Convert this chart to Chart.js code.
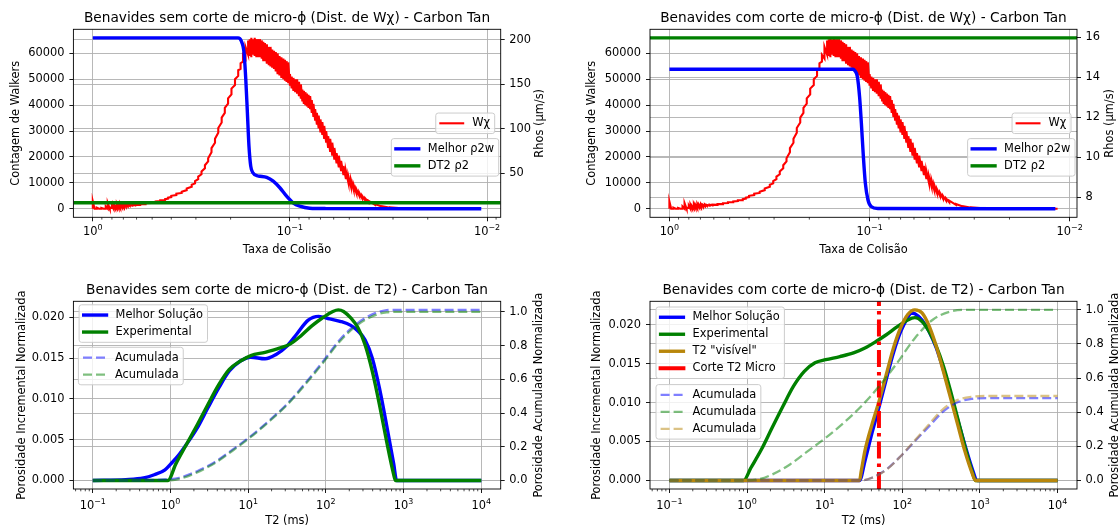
<!DOCTYPE html>
<html lang="pt">
<head>
<meta charset="utf-8">
<title>Benavides - Carbon Tan</title>
<script src="https://cdn.jsdelivr.net/npm/chart.js@4.4.1/dist/chart.umd.min.js"></script>
<style>
  html, body { margin: 0; padding: 0; background: #fff; }
  #figura { position: relative; width: 1118px; height: 528px; overflow: hidden; }
  canvas { position: absolute; }
</style>
</head>
<body>
<div id="figura">
  <canvas id="wxSem" width="559" height="264" style="left:0;top:0"></canvas>
  <canvas id="wxCom" width="559" height="264" style="left:559px;top:0"></canvas>
  <canvas id="t2Sem" width="559" height="264" style="left:0;top:264px"></canvas>
  <canvas id="t2Com" width="559" height="264" style="left:559px;top:264px"></canvas>
</div>
<script>
// ---------- dados ----------

// distribuicao W-chi: [taxa de colisao, minimo, maximo] (a curva oscila entre os dois)
const wxFaixa = [
  [1.0, 0, 2800], [0.98, 0, 0], [0.955, 0, 400], [0.93, 0, 0], [0.905, 0, 300],
  [0.88, 0, 0], [0.86, 0, 900], [0.84, 0, 2200], [0.82, 0, 500], [0.80, 300, 1200],
  [0.785, 0, 1600], [0.77, 200, 1000], [0.755, 0, 1800], [0.74, 300, 1400], [0.725, 100, 1900],
  [0.71, 600, 1500], [0.695, 400, 1800], [0.68, 800, 1500], [0.665, 900, 1700], [0.65, 1100, 1500],
  [0.63, 1200, 1600], [0.61, 1300, 1600], [0.575, 1500, 1800], [0.54, 1800, 2100], [0.51, 2200, 2500],
  [0.48, 2500, 2800], [0.455, 3000, 3300], [0.43, 3300, 3700], [0.415, 3900, 4300], [0.40, 4500, 5000],
  [0.377, 5300, 5800], [0.354, 6100, 6600], [0.334, 7200, 7800], [0.315, 8500, 9300], [0.303, 9800, 10700],
  [0.292, 11400, 12400], [0.281, 13300, 14400], [0.27, 15600, 16800], [0.26, 18300, 19500], [0.25, 21800, 23400],
  [0.24, 25500, 27000], [0.231, 29400, 31200], [0.222, 33300, 35200], [0.214, 37000, 39000], [0.206, 40600, 42600],
  [0.198, 44200, 46400], [0.19, 47800, 50000], [0.183, 51300, 53500], [0.178, 54000, 56200], [0.173, 56800, 59400],
  [0.168, 58000, 62500], [0.163, 59500, 65000], [0.16, 59000, 65500], [0.157, 58500, 66000], [0.154, 59500, 65500],
  [0.151, 59000, 66000], [0.148, 58500, 65500], [0.145, 58500, 65500], [0.142, 58500, 65500], [0.139, 58000, 65000],
  [0.1365, 57000, 64500], [0.134, 57000, 64000], [0.131, 56000, 63500], [0.128, 55500, 62500], [0.1255, 55000, 62500],
  [0.123, 54500, 61500], [0.1205, 54000, 61000], [0.118, 53000, 60500], [0.1155, 52000, 60000], [0.113, 51500, 59000],
  [0.1105, 50500, 58500], [0.108, 50000, 58000], [0.106, 49500, 57500], [0.104, 49000, 57000], [0.102, 48500, 56500],
  [0.100, 47500, 52000], [0.098, 46500, 51000], [0.096, 45500, 50500], [0.094, 45000, 50000], [0.092, 44500, 50000],
  [0.090, 43500, 49000], [0.088, 42500, 48000], [0.0865, 41500, 46000], [0.085, 40500, 45500], [0.0835, 40000, 45000],
  [0.082, 39500, 44500], [0.0805, 39000, 44000], [0.079, 38500, 43500], [0.0775, 37000, 42000], [0.076, 35500, 40500],
  [0.0745, 34000, 38500], [0.073, 32500, 37000], [0.0715, 31000, 36000], [0.070, 29500, 34500], [0.0685, 28500, 33500],
  [0.067, 27000, 32000], [0.0655, 25500, 30000], [0.064, 23500, 28000], [0.0625, 22000, 27000], [0.061, 20500, 25500],
  [0.0595, 19000, 23500], [0.058, 17500, 21500], [0.0565, 16000, 20500], [0.055, 14500, 18500], [0.0535, 13000, 16500],
  [0.052, 11500, 14500], [0.0505, 10000, 12500], [0.049, 8500, 11000], [0.0475, 7200, 9200], [0.046, 6000, 7500],
  [0.0445, 5000, 6200], [0.043, 4000, 5000], [0.0415, 3200, 4000], [0.040, 2500, 3100], [0.037, 1500, 1800],
  [0.034, 800, 1000], [0.031, 400, 500], [0.027, 150, 150], [0.022, 30, 30], [0.0115, 0, 0]
];

// rho2 ajustado (um/s) por taxa de colisao
const melhorRhoSem = [
  [1.0, 202], [0.1832, 202], [0.1766, 198.5], [0.171, 185.4], [0.1675, 155.4], [0.1644, 118],
  [0.1614, 80.4], [0.1581, 57.9], [0.1542, 50.4], [0.1452, 46.8], [0.1419, 46.5], [0.1312, 45.2],
  [0.1216, 41], [0.1125, 33.6], [0.104, 24.1], [0.0964, 16.7], [0.0891, 12.9], [0.0794, 10.6],
  [0.0655, 10.2], [0.0107, 10.0]
];
const melhorRhoCom = [
  [1.0, 14.4], [0.1211, 14.4], [0.1186, 14.33], [0.1151, 14.03], [0.1122, 13.03], [0.1099, 11.7],
  [0.1074, 10.03], [0.105, 8.7], [0.1019, 7.87], [0.0982, 7.53], [0.091, 7.43], [0.0118, 7.42]
];
const rhoDT2Sem = 16.7;
const rhoDT2Com = 15.97;

// distribuicoes de T2 (ms) sem corte
const melhorSem = [
  [0.1, 0], [0.265, 0.0001], [0.45, 0.0003], [0.618, 0.0007], [0.849, 0.0013], [1.05, 0.0022],
  [1.297, 0.0032], [1.6, 0.0044], [2.2, 0.0064], [3.03, 0.0089], [4.16, 0.0113], [5.71, 0.0134],
  [7.85, 0.0146], [10.8, 0.0151], [16.5, 0.0149], [22.6, 0.0154], [31.1, 0.0164], [42.7, 0.0180],
  [58.7, 0.0196], [80.7, 0.0201], [111, 0.0198], [152, 0.0195], [209, 0.0190], [259, 0.0183],
  [320, 0.0172], [395, 0.0150], [489, 0.0113], [604, 0.0068], [747, 0.0020], [813, 0], [10000, 0]
];
const experimentalSem = [
  [0.1, 0], [0.925, 0], [1.167, 0.0020], [1.6, 0.0044], [2.2, 0.0068], [3.03, 0.0093], [4.16, 0.0117],
  [5.71, 0.0136], [7.85, 0.0146], [10.8, 0.0153], [16.5, 0.0157], [25.2, 0.0162], [34.6, 0.0167],
  [47.5, 0.0177], [65.3, 0.0189], [89.8, 0.0199], [123, 0.0207], [144.5, 0.0209], [169, 0.0207],
  [209, 0.0199], [259, 0.0187], [320, 0.0166], [395, 0.0134], [489, 0.0093], [604, 0.0048],
  [747, 0.0007], [787, 0], [10000, 0]
];
const acumMelhorSem = [
  [0.1, 0], [0.5, 0.002], [0.849, 0.006], [1.297, 0.016], [2.2, 0.055], [3.74, 0.11], [6.35, 0.184],
  [10.8, 0.263], [18.3, 0.352], [31.1, 0.45], [52.8, 0.57], [89.8, 0.70], [152, 0.836], [259, 0.935],
  [439, 0.994], [604, 1.01], [747, 1.012], [10000, 1.012]
];
const acumExpSem = [
  [0.1, 0], [0.925, 0], [1.297, 0.01], [2.2, 0.048], [3.74, 0.104], [6.35, 0.178], [10.8, 0.258],
  [18.3, 0.347], [31.1, 0.445], [52.8, 0.563], [89.8, 0.692], [152, 0.826], [259, 0.925],
  [439, 0.982], [604, 0.997], [747, 1.0], [10000, 1.0]
];

// distribuicoes de T2 (ms) com corte de micro-phi
const corteT2 = 50;
const melhorCom = [
  [0.1, 0], [28.1, 0], [33.0, 0.0025], [40.7, 0.0061], [50.3, 0.0095], [62.2, 0.0130], [76.9, 0.0164],
  [95.1, 0.0191], [117.5, 0.0209], [130.6, 0.0215], [145, 0.0214], [179.5, 0.0206], [222, 0.0191],
  [274, 0.0170], [338, 0.0142], [418, 0.0110], [516, 0.0078], [638, 0.0046], [789, 0.0016],
  [925, 0], [10000, 0]
];
const experimentalCom = [
  [0.1, 0], [0.903, 0], [1.117, 0.0016], [1.535, 0.0040], [2.11, 0.0068], [2.89, 0.0095], [3.97, 0.0121],
  [5.46, 0.0140], [7.5, 0.0151], [10.3, 0.0155], [15.7, 0.0159], [24.0, 0.0164], [33.0, 0.0170],
  [45.3, 0.0178], [62.2, 0.0187], [85.5, 0.0197], [117.5, 0.0206], [145, 0.0209], [179.5, 0.0204],
  [222, 0.0191], [274, 0.0172], [338, 0.0147], [418, 0.0115], [516, 0.0080], [638, 0.0044],
  [789, 0.0012], [877, 0], [10000, 0]
];
const visivelCom = [
  [0.1, 0], [28.1, 0], [29.6, 0.0012], [33.0, 0.0038], [40.7, 0.0072], [50.3, 0.0102], [62.2, 0.0136],
  [76.9, 0.0170], [95.1, 0.0196], [117.5, 0.0213], [145, 0.0219], [179.5, 0.0215], [222, 0.0198],
  [274, 0.0172], [338, 0.0140], [418, 0.0106], [516, 0.0072], [638, 0.0038], [789, 0.0010],
  [877, 0], [10000, 0]
];
const acumMelhorCom = [
  [0.1, 0], [29.6, 0], [40.7, 0.016], [62.2, 0.064], [95.1, 0.142], [145, 0.23], [222, 0.318],
  [338, 0.405], [516, 0.458], [789, 0.478], [1205, 0.482], [10000, 0.482]
];
const acumExpCom = [
  [0.1, 0], [0.903, 0], [1.38, 0.006], [2.11, 0.035], [3.57, 0.094], [6.07, 0.172], [10.3, 0.25],
  [17.5, 0.337], [29.6, 0.435], [50.3, 0.552], [85.5, 0.688], [145, 0.834], [246.6, 0.942],
  [418, 0.99], [710, 1.0], [10000, 1.0]
];
const acumVisivelCom = [
  [0.1, 0], [29.6, 0], [40.7, 0.016], [62.2, 0.062], [95.1, 0.142], [145, 0.235], [222, 0.33],
  [338, 0.42], [516, 0.472], [789, 0.491], [1205, 0.495], [10000, 0.495]
];

// marcas dos eixos
const ticksContagem = [0, 10000, 20000, 30000, 40000, 50000, 60000];
const ticksRhoSem = [50, 100, 150, 200];
const ticksRhoCom = [8, 10, 12, 14, 16];
const ticksPorosidade = [0, 0.005, 0.010, 0.015, 0.020];
const ticksAcumulada = [0, 0.2, 0.4, 0.6, 0.8, 1.0];

// ---------- estilo ----------
const FONTE = 'DejaVu Sans';
const TAM = 11.4;
const TAM_TITULO = 13.7;
const GRADE = '#b0b0b0';
const AZUL = '#0000ff', VERDE = '#008000', VERMELHO = '#ff0000', OURO = '#b8860b';
const AZUL_A = 'rgba(0,0,255,0.5)', VERDE_A = 'rgba(0,128,0,0.5)', OURO_A = 'rgba(184,134,11,0.5)';
const TRACO = [9, 4];

Chart.defaults.font.family = FONTE;
Chart.defaults.font.size = TAM;
Chart.defaults.color = '#000';

// ---------- auxiliares ----------
function pontos(pares) { return pares.map(([x, y]) => ({ x, y })); }

function serieWx() {
  const pts = [];
  wxFaixa.forEach(([x, lo, hi]) => {
    pts.push({ x, y: lo });
    if (hi !== lo) pts.push({ x, y: hi });
  });
  return pts;
}

// limites com 5% de folga, como o autoscale padrao
function margem(valores, log) {
  let lo = Math.min(...valores), hi = Math.max(...valores);
  if (log) { lo = Math.log10(lo); hi = Math.log10(hi); }
  const m = (hi - lo) * 0.05;
  lo -= m; hi += m;
  return log ? [10 ** lo, 10 ** hi] : [lo, hi];
}

function ticksLog(min, max) {
  const t = [];
  for (let e = Math.floor(Math.log10(min)); e <= Math.ceil(Math.log10(max)); e++) {
    for (let m = 1; m <= 9; m++) {
      const v = m * 10 ** e;
      if (v >= min && v <= max) t.push({ value: v, major: m === 1 });
    }
  }
  return t;
}

function linha(label, cor, pares, eixo, ordem, extra) {
  return Object.assign({
    label, data: pontos(pares), yAxisID: eixo, order: ordem,
    borderColor: cor, borderWidth: 3.4, pointRadius: 0, fill: false,
    cubicInterpolationMode: 'monotone', borderJoinStyle: 'round'
  }, extra || {});
}

// ---------- legenda, titulo, moldura ----------
const LEG = { pad: 4.6, alca: 22.8, sep: 9.1, linha: 11.3, esp: 5.7 };

function desenhaLegenda(chart, lg) {
  const { ctx, chartArea: a } = chart;
  const itens = lg.itens.map(i => chart.data.datasets[i]);
  ctx.font = TAM + 'px "' + FONTE + '"';
  const larg = Math.max(...itens.map(d => ctx.measureText(d.label).width));
  const w = 2 * LEG.pad + LEG.alca + LEG.sep + larg;
  const h = 2 * LEG.pad + itens.length * LEG.linha + (itens.length - 1) * LEG.esp;
  const x = lg.direita !== undefined ? a.right - lg.direita - w : a.left + lg.esquerda;
  const y = lg.centro ? (a.top + a.bottom - h) / 2 : a.top + lg.topo;
  ctx.beginPath();
  ctx.roundRect(x, y, w, h, 2.5);
  ctx.fillStyle = 'rgba(255,255,255,0.8)';
  ctx.fill();
  ctx.setLineDash([]);
  ctx.lineWidth = 1;
  ctx.strokeStyle = '#cccccc';
  ctx.stroke();
  itens.forEach((d, k) => {
    const cy = y + LEG.pad + k * (LEG.linha + LEG.esp) + LEG.linha / 2;
    const tracejada = d.borderDash && !d.legendaSolida;
    ctx.beginPath();
    ctx.moveTo(x + LEG.pad, cy);
    ctx.lineTo(x + LEG.pad + LEG.alca, cy);
    ctx.strokeStyle = d.borderColor;
    ctx.lineWidth = d.borderWidth;
    ctx.setLineDash(tracejada ? d.borderDash : []);
    ctx.lineCap = tracejada ? 'butt' : 'square';
    ctx.stroke();
    ctx.setLineDash([]);
    ctx.lineCap = 'butt';
    ctx.fillStyle = '#000';
    ctx.textAlign = 'left';
    ctx.textBaseline = 'middle';
    ctx.fillText(d.label, x + LEG.pad + LEG.alca + LEG.sep, cy);
  });
}

// rotulos 10^n do eixo logaritmico, com expoente menor e elevado
function desenhaRotulosX(chart, dy) {
  const { ctx, chartArea: a, scales } = chart;
  const grande = TAM + 'px "' + FONTE + '"';
  const pequena = (TAM * 0.7).toFixed(2) + 'px "' + FONTE + '"';
  ctx.fillStyle = '#000';
  ctx.textAlign = 'left';
  ctx.textBaseline = 'alphabetic';
  scales.x.ticks.forEach(t => {
    if (!t.major) return;
    const exp = String(Math.round(Math.log10(t.value))).replace('-', '−');
    ctx.font = grande;
    const wb = ctx.measureText('10').width;
    ctx.font = pequena;
    const we = ctx.measureText(exp).width;
    const x0 = scales.x.getPixelForValue(t.value) - (wb + we) / 2;
    const y0 = a.bottom + dy;
    ctx.font = grande;
    ctx.fillText('10', x0, y0);
    ctx.font = pequena;
    ctx.fillText(exp, x0 + wb, y0 - 5.1);
  });
}

const decoracao = {
  id: 'decoracao',
  afterDatasetsDraw(chart, args, opts) {
    const { ctx, chartArea: a, scales } = chart;
    ctx.save();
    // marcas menores do eixo logaritmico
    ctx.strokeStyle = '#000';
    ctx.lineWidth = 0.7;
    scales.x.ticks.forEach(t => {
      if (t.major) return;
      const px = scales.x.getPixelForValue(t.value);
      ctx.beginPath();
      ctx.moveTo(px, a.bottom);
      ctx.lineTo(px, a.bottom + 2.3);
      ctx.stroke();
    });
    desenhaRotulosX(chart, opts.rotuloXdy);
    // legendas
    opts.legendas.forEach(lg => desenhaLegenda(chart, lg));
    // moldura
    ctx.setLineDash([]);
    ctx.strokeStyle = '#000';
    ctx.lineWidth = 0.9;
    ctx.strokeRect(a.left, a.top, a.right - a.left, a.bottom - a.top);
    // titulo
    ctx.fillStyle = '#000';
    ctx.font = TAM_TITULO + 'px "' + FONTE + '"';
    ctx.textAlign = 'center';
    ctx.textBaseline = 'alphabetic';
    ctx.fillText(opts.titulo, (a.left + a.right) / 2, a.top - 7.8);
    // rotulo do eixo da direita
    ctx.font = TAM + 'px "' + FONTE + '"';
    ctx.translate(a.right + opts.rotuloDx, (a.top + a.bottom) / 2);
    ctx.rotate(-Math.PI / 2);
    ctx.textBaseline = 'middle';
    ctx.fillText(opts.rotuloD, 0, 0);
    ctx.restore();
  }
};

// ---------- montagem ----------
function criaGrafico(id, c) {
  const gradeY = { color: GRADE, lineWidth: 0.9, tickColor: '#000', tickLength: 4, tickWidth: 0.9 };
  new Chart(document.getElementById(id), {
    type: 'line',
    data: { datasets: c.series },
    options: {
      responsive: false,
      animation: false,
      events: [],
      layout: { padding: { top: c.topo, left: 0, right: 0, bottom: 0 } },
      scales: {
        x: {
          type: 'logarithmic', position: 'bottom', reverse: !!c.xInvertido, bounds: 'data',
          min: c.xLim[0], max: c.xLim[1],
          afterBuildTicks: s => { s.ticks = ticksLog(s.min, s.max); },
          afterFit: s => { s.height = c.alturaX; },
          ticks: { autoSkip: false, maxRotation: 0, minRotation: 0, padding: 3.5, callback: () => '' },
          grid: {
            color: ctx => (ctx.tick && ctx.tick.major) ? GRADE : 'rgba(0,0,0,0)',
            tickColor: ctx => (ctx.tick && ctx.tick.major) ? '#000' : 'rgba(0,0,0,0)',
            lineWidth: 0.9, tickLength: 4, tickWidth: 0.9
          },
          border: { display: false },
          title: { display: true, text: c.rotuloX, padding: { top: 0, bottom: c.padRotuloX } }
        },
        yE: {
          type: 'linear', position: 'left', bounds: 'data',
          min: c.yELim[0], max: c.yELim[1],
          afterBuildTicks: s => { s.ticks = c.ticksE.map(v => ({ value: v })); },
          afterFit: s => { s.width = c.larguraE; },
          ticks: { padding: 5, callback: v => v.toFixed(c.casasE) },
          grid: gradeY,
          border: { display: false },
          title: { display: true, text: c.rotuloE, padding: { top: c.padRotuloE, bottom: 0 } }
        },
        yD: {
          type: 'linear', position: 'right', bounds: 'data',
          min: c.yDLim[0], max: c.yDLim[1],
          afterBuildTicks: s => { s.ticks = c.ticksD.map(v => ({ value: v })); },
          afterFit: s => { s.width = c.larguraD; },
          ticks: { padding: 4.6, callback: v => v.toFixed(c.casasD) },
          grid: gradeY,
          border: { display: false }
        }
      },
      plugins: {
        legend: { display: false },
        tooltip: { enabled: false },
        decoracao: {
          titulo: c.titulo, rotuloD: c.rotuloD, rotuloDx: c.rotuloDx,
          rotuloXdy: c.rotuloXdy, legendas: c.legendas
        }
      }
    },
    plugins: [decoracao]
  });
}

// --- Wx sem corte ---
const xWxSem = margem([...wxFaixa.map(r => r[0]), ...melhorRhoSem.map(p => p[0])], true);
const yContagem = margem([...wxFaixa.map(r => r[1]), ...wxFaixa.map(r => r[2])]);
criaGrafico('wxSem', {
  titulo: 'Benavides sem corte de micro-ϕ (Dist. de Wχ) - Carbon Tan',
  rotuloX: 'Taxa de Colisão', rotuloE: 'Contagem de Walkers', rotuloD: 'Rhos (µm/s)',
  xInvertido: true, xLim: xWxSem, yELim: yContagem,
  yDLim: margem([...melhorRhoSem.map(p => p[1]), rhoDT2Sem]),
  ticksE: ticksContagem, casasE: 0, ticksD: ticksRhoSem, casasD: 0,
  topo: 29.3, larguraE: 73.4, larguraD: 58.3, alturaX: 46.7,
  padRotuloE: 9.4, padRotuloX: 7.2, rotuloDx: 39.3, rotuloXdy: 18,
  series: [
    { label: 'Wχ', data: serieWx(), yAxisID: 'yE', order: 3, borderColor: VERMELHO, borderWidth: 2.1,
      pointRadius: 0, fill: false, tension: 0 },
    linha('Melhor ρ2w', AZUL, melhorRhoSem, 'yD', 2),
    linha('DT2 ρ2', VERDE, [[xWxSem[1], rhoDT2Sem], [xWxSem[0], rhoDT2Sem]], 'yD', 1)
  ],
  legendas: [{ itens: [0], direita: 6, centro: true }, { itens: [1, 2], direita: 2, topo: 109.3 }]
});

// --- Wx com corte ---
const xWxCom = margem([...wxFaixa.map(r => r[0]), ...melhorRhoCom.map(p => p[0])], true);
criaGrafico('wxCom', {
  titulo: 'Benavides com corte de micro-ϕ (Dist. de Wχ) - Carbon Tan',
  rotuloX: 'Taxa de Colisão', rotuloE: 'Contagem de Walkers', rotuloD: 'Rhos (µm/s)',
  xInvertido: true, xLim: xWxCom, yELim: yContagem,
  yDLim: margem([...melhorRhoCom.map(p => p[1]), rhoDT2Com]),
  ticksE: ticksContagem, casasE: 0, ticksD: ticksRhoCom, casasD: 0,
  topo: 29.3, larguraE: 91, larguraD: 41, alturaX: 46.7,
  padRotuloE: 26.7, padRotuloX: 7.2, rotuloDx: 33, rotuloXdy: 18,
  series: [
    { label: 'Wχ', data: serieWx(), yAxisID: 'yE', order: 3, borderColor: VERMELHO, borderWidth: 2.1,
      pointRadius: 0, fill: false, tension: 0 },
    linha('Melhor ρ2w', AZUL, melhorRhoCom, 'yD', 2),
    linha('DT2 ρ2', VERDE, [[xWxCom[1], rhoDT2Com], [xWxCom[0], rhoDT2Com]], 'yD', 1)
  ],
  legendas: [{ itens: [0], direita: 6, centro: true }, { itens: [1, 2], direita: 2, topo: 109.3 }]
});

// --- T2 sem corte ---
criaGrafico('t2Sem', {
  titulo: 'Benavides sem corte de micro-ϕ (Dist. de T2) - Carbon Tan',
  rotuloX: 'T2 (ms)', rotuloE: 'Porosidade Incremental Normalizada', rotuloD: 'Porosidade Acumulada Normalizada',
  xLim: margem(melhorSem.map(p => p[0]), true),
  yELim: margem([...melhorSem, ...experimentalSem].map(p => p[1])),
  yDLim: margem([...acumMelhorSem, ...acumExpSem].map(p => p[1])),
  ticksE: ticksPorosidade, casasE: 3, ticksD: ticksAcumulada, casasD: 1,
  topo: 37.3, larguraE: 73.4, larguraD: 58.3, alturaX: 39,
  padRotuloE: 14.9, padRotuloX: 0, rotuloDx: 38, rotuloXdy: 20,
  series: [
    linha('Melhor Solução', AZUL, melhorSem, 'yE', 4),
    linha('Experimental', VERDE, experimentalSem, 'yE', 3),
    linha('Acumulada', AZUL_A, acumMelhorSem, 'yD', 2, { borderWidth: 2.3, borderDash: TRACO }),
    linha('Acumulada', VERDE_A, acumExpSem, 'yD', 1, { borderWidth: 2.3, borderDash: TRACO })
  ],
  legendas: [{ itens: [0, 1], esquerda: 5.7, topo: 3.5 }, { itens: [2, 3], esquerda: 5, topo: 46 }]
});

// --- T2 com corte ---
const yPorosCom = margem([...melhorCom, ...experimentalCom, ...visivelCom].map(p => p[1]));
criaGrafico('t2Com', {
  titulo: 'Benavides com corte de micro-ϕ (Dist. de T2) - Carbon Tan',
  rotuloX: 'T2 (ms)', rotuloE: 'Porosidade Incremental Normalizada', rotuloD: 'Porosidade Acumulada Normalizada',
  xLim: margem(melhorCom.map(p => p[0]), true),
  yELim: yPorosCom,
  yDLim: margem([...acumMelhorCom, ...acumExpCom, ...acumVisivelCom].map(p => p[1])),
  ticksE: ticksPorosidade, casasE: 3, ticksD: ticksAcumulada, casasD: 1,
  topo: 37.3, larguraE: 91, larguraD: 41, alturaX: 39,
  padRotuloE: 31.5, padRotuloX: 0, rotuloDx: 38, rotuloXdy: 20,
  series: [
    linha('Melhor Solução', AZUL, melhorCom, 'yE', 7),
    linha('Experimental', VERDE, experimentalCom, 'yE', 6),
    linha('T2 "visível"', OURO, visivelCom, 'yE', 5),
    linha('Corte T2 Micro', VERMELHO, [[corteT2, yPorosCom[0]], [corteT2, yPorosCom[1]]], 'yE', 4,
      { borderWidth: 4, borderDash: [17, 5, 3.5, 5], legendaSolida: true, cubicInterpolationMode: 'default' }),
    linha('Acumulada', AZUL_A, acumMelhorCom, 'yD', 3, { borderWidth: 2.3, borderDash: TRACO }),
    linha('Acumulada', VERDE_A, acumExpCom, 'yD', 2, { borderWidth: 2.3, borderDash: TRACO }),
    linha('Acumulada', OURO_A, acumVisivelCom, 'yD', 1, { borderWidth: 2.3, borderDash: TRACO })
  ],
  legendas: [{ itens: [0, 1, 2, 3], esquerda: 6, topo: 5.7 }, { itens: [4, 5, 6], esquerda: 6, topo: 83.3 }]
});
</script>
</body>
</html>
